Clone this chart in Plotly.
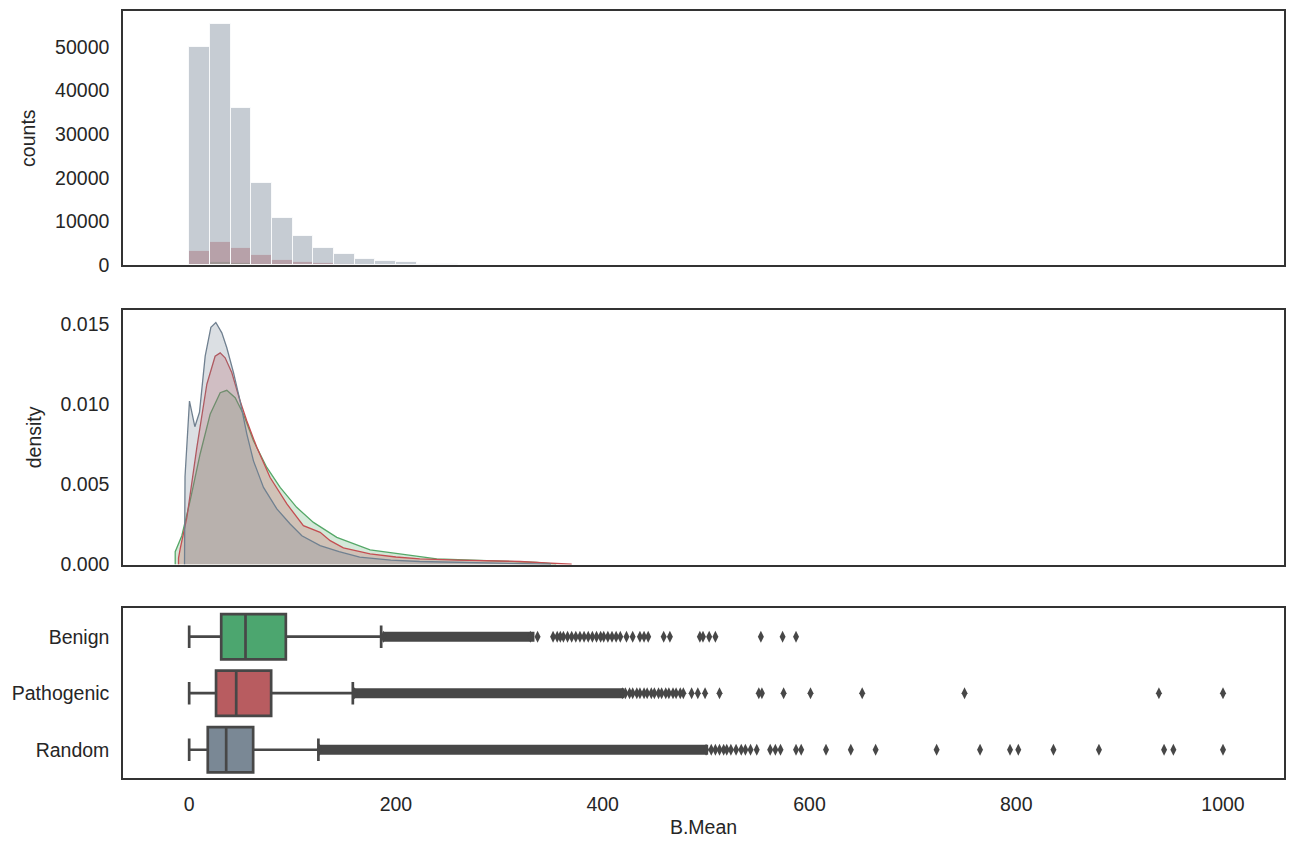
import plotly.graph_objects as go
from plotly.subplots import make_subplots

# -- histogram (bins of 20 starting at 0)
bin_starts = [0, 20, 40, 60, 80, 100, 120, 140, 160, 180, 200, 220, 240, 260, 280, 300, 320, 340]
hist_benign = [350, 700, 550, 380, 260, 170, 110, 80, 50, 35, 25, 15, 10, 8, 5, 4, 3, 2]
hist_pathogenic = [3200, 5400, 3950, 2350, 1300, 760, 530, 300, 180, 120, 80, 55, 40, 30, 20, 15, 10, 6]
hist_random = [50000, 55300, 36100, 18800, 10800, 6700, 3950, 2580, 1440, 1070, 760, 420, 300, 190, 130, 90, 60, 40]

benign_x = [-13.5, -13.5, -7.1, 1, 10.6, 20.3, 30, 36.4, 44.5, 52.5, 62.2, 75.1, 88, 104, 120.2, 142.8,
            175, 207, 239.5, 288, 336, 355]
benign_y = [0, 0.0008, 0.0018, 0.004, 0.0069, 0.00938, 0.01072, 0.01087, 0.01041, 0.00938, 0.00772, 0.00606,
            0.00481, 0.00357, 0.00263, 0.0017, 0.00091, 0.00062, 0.00035, 0.00025, 0.00013, 0.00002]
pathogenic_x = [-10.3, -10.3, -8.7, -2.2, 7.4, 17.1, 25.1, 30, 34.8, 41.3, 49.3, 55.8, 65.5, 78.3, 94.5, 110.5,
                126.7, 136.4, 149.2, 175, 200, 223, 260, 288, 320, 345, 370]
pathogenic_y = [0, 0.0004, 0.00098, 0.00294, 0.0073, 0.01125, 0.0130, 0.01321, 0.0129, 0.01197, 0.0102, 0.00896,
                0.0073, 0.00543, 0.00378, 0.00243, 0.00201, 0.00149, 0.00104, 0.00066, 0.00047, 0.00035,
                0.00028, 0.00025, 0.00019, 0.0001, 0.00002]
random_x = [-4.5, -4, 0.3, 5.5, 10, 15.5, 21, 25.8, 31.6, 36.4, 42.9, 49.3, 55.8, 62.2, 71.9, 84.8, 97.7, 109,
            126.7, 145, 165, 195, 223, 260, 288, 320, 350]
random_y = [0, 0.0055, 0.0102, 0.0086, 0.0095, 0.0130, 0.0148, 0.0151, 0.01446, 0.01353, 0.01197, 0.0102,
            0.00814, 0.00647, 0.00481, 0.00347, 0.00253, 0.0018, 0.00118, 0.0008, 0.00046, 0.00028, 0.00019,
            0.00013, 0.0001, 0.00005, 0.00002]

# -- boxplot
categorias = ['Benign', 'Pathogenic', 'Random']
q1 = [31, 26, 18]
mediana = [54.5, 45.5, 35.8]
q3 = [93.5, 79.3, 61.9]
bigote_inf = [0, 0, 0]
bigote_sup = [185.7, 158.3, 125]

# tramo donde los outliers se enciman (banda continua)
banda_inicio = [187, 159, 125]
banda_fin = [334, 421, 502]

outliers_benign = [188, 330, 337, 352, 356, 359, 362, 366, 370, 374, 378, 382, 386, 390, 394, 398, 401, 405, 409,
                   413, 417, 423, 429, 436, 440, 444, 459, 465, 494, 497, 503, 509, 553, 574, 587]
outliers_pathogenic = [160, 419, 422, 426, 429, 433, 436, 440, 443, 447, 450, 454, 457, 461, 464, 468, 471,
                       475, 478, 486, 492, 499, 513, 551, 554, 575, 601, 651, 750, 938, 1000]
outliers_random = [126, 500, 505, 509, 513, 517, 520, 524, 529, 534, 538, 543, 549, 562, 567, 572, 587, 592, 616,
                   640, 664, 723, 765, 794, 802, 836, 880, 943, 952, 1000]

# colores
VERDE = (85, 168, 104)
ROJO = (196, 78, 82)
GRIS = (112, 128, 144)
OSCURO = '#474747'


def rgba(c, a):
    return 'rgba({},{},{},{})'.format(c[0], c[1], c[2], a)


fig = make_subplots(rows=3, cols=1, shared_xaxes=False)

# histogramas
for nombre, valores, color in [('Benign', hist_benign, VERDE), ('Pathogenic', hist_pathogenic, ROJO),
                               ('Random', hist_random, GRIS)]:
    fig.add_trace(go.Bar(x=bin_starts, y=valores, width=20, offset=0, name=nombre,
                         marker=dict(color=rgba(color, 0.4), line=dict(color='rgba(255,255,255,0.8)', width=1))),
                  row=1, col=1)

# densidades
for nombre, xs, ys, color in [('Benign', benign_x, benign_y, VERDE),
                              ('Pathogenic', pathogenic_x, pathogenic_y, ROJO),
                              ('Random', random_x, random_y, GRIS)]:
    fig.add_trace(go.Scatter(x=xs, y=ys, mode='lines', fill='tozeroy', name=nombre,
                             line=dict(color=rgba(color, 1), width=1.3),
                             fillcolor=rgba(color, 0.25)),
                  row=2, col=1)

# boxplots
colores_box = ['#4ca66f', '#b85c60', '#7a8895']
for i, cat in enumerate(categorias):
    fig.add_trace(go.Box(y=[cat], q1=[q1[i]], median=[mediana[i]], q3=[q3[i]],
                         lowerfence=[bigote_inf[i]], upperfence=[bigote_sup[i]],
                         orientation='h', boxpoints=False, width=0.8, whiskerwidth=0.5,
                         fillcolor=colores_box[i], line=dict(color=OSCURO, width=2.7), name=cat),
                  row=3, col=1)

# outliers: banda densa + diamantes sueltos
for i, cat in enumerate(categorias):
    fig.add_trace(go.Scatter(x=[banda_inicio[i], banda_fin[i]], y=[cat, cat], mode='lines', name=cat,
                             line=dict(color=OSCURO, width=10)),
                  row=3, col=1)

for cat, vals in zip(categorias, [outliers_benign, outliers_pathogenic, outliers_random]):
    fig.add_trace(go.Scatter(x=vals, y=[cat] * len(vals), mode='markers', name=cat,
                             marker=dict(symbol='diamond-tall', size=8.5, color=OSCURO, line=dict(width=0))),
                  row=3, col=1)

eje = dict(showline=True, mirror=True, linecolor='#333333', linewidth=1.5, showgrid=False, zeroline=False,
           ticks='outside', ticklen=8, tickcolor='rgba(0,0,0,0)',
           tickfont=dict(size=19.5, color='#262626'), range=[-64, 1059])

fig.update_xaxes(**eje)
fig.update_xaxes(showticklabels=False, row=1, col=1)
fig.update_xaxes(showticklabels=False, row=2, col=1)
fig.update_xaxes(tickvals=[0, 200, 400, 600, 800, 1000], title=dict(text='B.Mean', font=dict(size=19.5,
                 color='#262626'), standoff=6), row=3, col=1)

eje_y = dict(showline=True, mirror=True, linecolor='#333333', linewidth=1.5, showgrid=False, zeroline=False,
             ticks='outside', ticklen=8, tickcolor='rgba(0,0,0,0)', tickfont=dict(size=19.5, color='#262626'))
fig.update_yaxes(**eje_y)
fig.update_yaxes(range=[0, 58200], tickvals=[0, 10000, 20000, 30000, 40000, 50000], tickformat='d',
                 title=dict(text='counts', font=dict(size=19.5, color='#262626'), standoff=14),
                 automargin=True, domain=[0.6684, 1], row=1, col=1)
fig.update_yaxes(range=[0, 0.01587], tickvals=[0, 0.005, 0.010, 0.015], tickformat='.3f',
                 title=dict(text='density', font=dict(size=19.5, color='#262626'), standoff=14),
                 automargin=True, domain=[0.2783, 0.6099], row=2, col=1)
fig.update_yaxes(categoryorder='array', categoryarray=categorias, range=[2.5, -0.5],
                 domain=[0, 0.2211], row=3, col=1)

# la pagina deja 8px de margen en el body
fig.update_layout(width=1287, height=839, margin=dict(l=115, r=11, t=1, b=69),
                  plot_bgcolor='white', paper_bgcolor='white', barmode='overlay', bargap=0,
                  showlegend=False, font=dict(family='Liberation Sans, Arial, sans-serif', size=19.5,
                                              color='#262626'))

fig.write_html("out.html")
